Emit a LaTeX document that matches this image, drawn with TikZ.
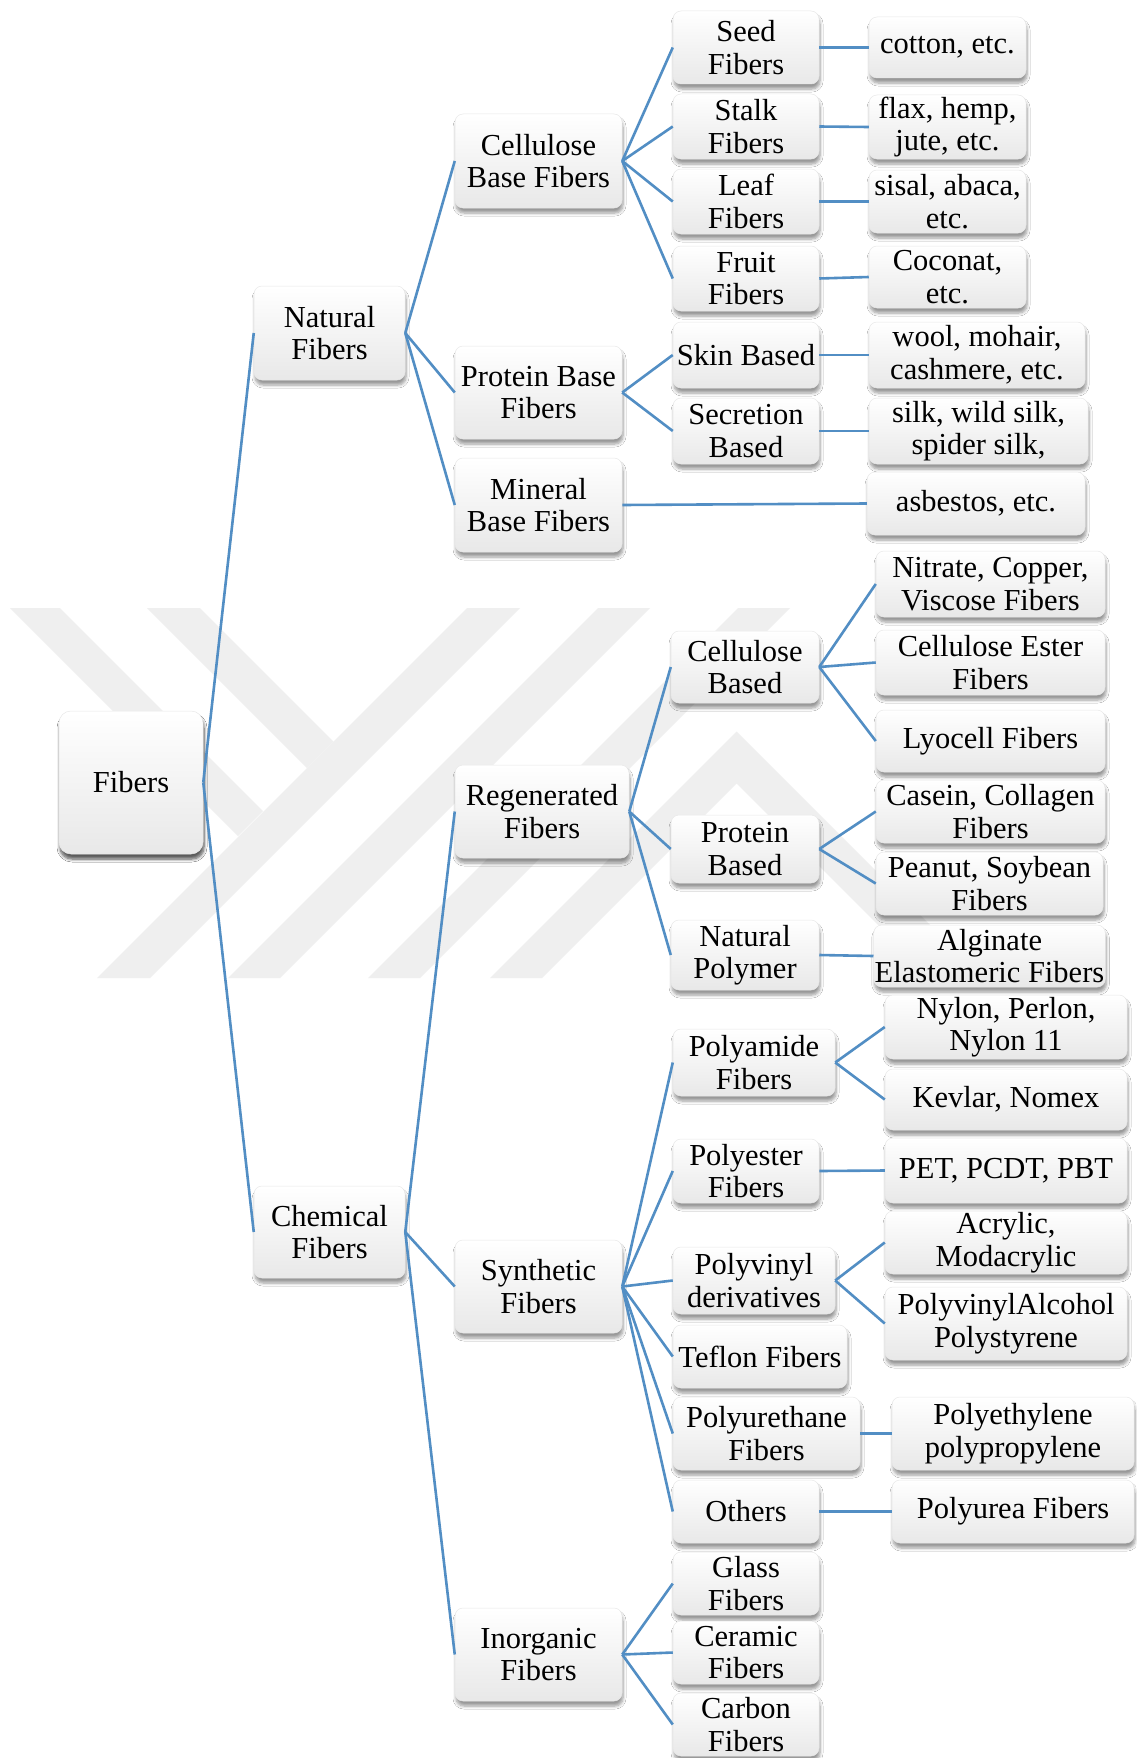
\documentclass[tikz,border=0pt]{standalone}
\usepackage{fontspec}
\usetikzlibrary{shadows.blur}
\newfontfamily\boxfont{Liberation Serif}
\definecolor{wmgray}{RGB}{239,239,239}
\definecolor{connblue}{RGB}{82,142,196}
\definecolor{boxedge}{RGB}{232,232,232}
\tikzset{
  box/.style={rectangle, rounded corners=8pt, align=center, inner sep=1pt,
    font=\boxfont\fontsize{30.5}{32.5}\selectfont, text=black,
    draw=boxedge, line width=0.5pt,
    top color=white, middle color=white, bottom color=black!9,
    blur shadow={shadow xshift=1pt, shadow yshift=-5pt, shadow blur radius=3pt, shadow blur steps=6, shadow opacity=40}},
  bigbox/.style={box, rounded corners=12pt},
  conn/.style={draw=connblue, line width=2.6pt},
  wmark/.style={fill=wmgray, draw=none}
}
\newcommand\bx[7][]{\node[box, #1, minimum width={#5-#3}, minimum height={#6-#4}] (#2) at ({(#3+#5)/2},{(#4+#6)/2}) {#7};}
\begin{document}
\begin{tikzpicture}[x=1pt,y=-1pt]
\useasboundingbox (0,0) rectangle (1136,1758);
\fill[white] (0,0) rectangle (1136,1758);
% watermark
\fill[wmark] (10,608) -- (60,608) -- (263,811) -- (238,836) -- cycle;
\fill[wmark] (147,608) -- (200,608) -- (333.5,741.5) -- (307,768) -- cycle;
\fill[wmark] (97,978) -- (150,978) -- (520,608) -- (467,608) -- cycle;
\fill[wmark] (228,978) -- (280,978) -- (650,608) -- (598,608) -- cycle;
\fill[wmark] (368,978) -- (420,978) -- (790,608) -- (738,608) -- cycle;
\fill[wmark] (490,978) -- (736.5,731.5) -- (983,978) -- (931,978) -- (736.5,783.5) -- (542,978) -- cycle;
% nodes
\bx[bigbox]{fib}{59}{711}{203}{854}{Fibers}
\bx{nat}{254}{286}{405}{380}{Natural\\Fibers}
\bx{chem}{254}{1186}{405}{1278}{Chemical\\Fibers}
\bx{cbf}{455}{114}{622}{208}{Cellulose\\Base Fibers}
\bx{pbf}{455}{346}{622}{439}{Protein Base\\Fibers}
\bx{mbf}{455}{458}{622}{552}{Mineral\\Base Fibers}
\bx{reg}{455}{765}{629}{858}{Regenerated\\Fibers}
\bx{syn}{455}{1240}{622}{1333}{Synthetic\\Fibers}
\bx{inorg}{455}{1608}{622}{1701}{Inorganic\\Fibers}
\bx{seed}{673}{11}{819}{84}{Seed\\Fibers}
\bx{stalk}{673}{94}{819}{159}{Stalk\\Fibers}
\bx{leaf}{673}{169}{819}{234}{Leaf\\Fibers}
\bx{fruit}{673}{246}{819}{311}{Fruit\\Fibers}
\bx{skin}{673}{322}{819}{388}{Skin Based}
\bx{secr}{673}{398}{819}{464}{Secretion\\Based}
\bx{cotton}{869}{17}{1026}{78}{cotton, etc.}
\bx{flax}{869}{95}{1026}{159}{flax, hemp,\\jute, etc.}
\bx{sisal}{869}{170}{1026}{233}{sisal, abaca,\\etc.}
\bx{coco}{869}{246}{1026}{308}{Coconat,\\etc.}
\bx{wool}{869}{322}{1085}{388}{wool, mohair,\\cashmere, etc.}
\bx{silk}{869}{398}{1088}{464}{silk, wild silk,\\spider silk,}
\bx{asb}{867}{472}{1085}{535}{asbestos, etc.}
\bx{cb}{671}{631}{819}{703}{Cellulose\\Based}
\bx{pb}{671}{815}{819}{883}{Protein\\Based}
\bx{np}{671}{920}{819}{990}{Natural\\Polymer}
\bx{nitr}{876}{551}{1105}{617}{Nitrate, Copper,\\Viscose Fibers}
\bx{cef}{876}{630}{1105}{695}{Cellulose Ester\\Fibers}
\bx{lyo}{876}{710}{1105}{772}{Lyocell Fibers}
\bx{cas}{876}{780}{1105}{843}{Casein, Collagen\\Fibers}
\bx{pea}{876}{852}{1103}{915}{Peanut, Soybean\\Fibers}
\bx{alg}{876}{925}{1103}{987}{Alginate\\Elastomeric Fibers}
\bx{pam}{673}{1029}{835}{1096}{Polyamide\\Fibers}
\bx{nyl}{885}{995}{1127}{1059}{Nylon, Perlon,\\Nylon 11}
\bx{kev}{885}{1069}{1127}{1130}{Kevlar, Nomex}
\bx{pes}{673}{1139}{819}{1203}{Polyester\\Fibers}
\bx{pet}{885}{1138}{1127}{1203}{PET, PCDT, PBT}
\bx{pvd}{673}{1247}{835}{1314}{Polyvinyl\\derivatives}
\bx{acr}{885}{1211}{1127}{1274}{Acrylic,\\Modacrylic}
\bx{pva}{885}{1287}{1127}{1360}{PolyvinylAlcohol\\Polystyrene}
\bx{tef}{673}{1325}{847}{1388}{Teflon Fibers}
\bx{pur}{673}{1397}{860}{1470}{Polyurethane\\Fibers}
\bx{pe}{892}{1397}{1134}{1470}{Polyethylene\\polypropylene}
\bx{oth}{673}{1480}{819}{1543}{Others}
\bx{purea}{892}{1480}{1134}{1543}{Polyurea Fibers}
\bx{gla}{673}{1552}{819}{1615}{Glass\\Fibers}
\bx{cer}{673}{1621}{819}{1684}{Ceramic\\Fibers}
\bx{car}{673}{1693}{819}{1756}{Carbon\\Fibers}
% connectors
\foreach \a/\b in {fib/nat, fib/chem,
  nat/cbf, nat/pbf, nat/mbf,
  chem/reg, chem/syn, chem/inorg,
  cbf/seed, cbf/stalk, cbf/leaf, cbf/fruit,
  pbf/skin, pbf/secr, mbf/asb,
  seed/cotton, stalk/flax, leaf/sisal, fruit/coco, skin/wool, secr/silk,
  reg/cb, reg/pb, reg/np,
  cb/nitr, cb/cef, cb/lyo, pb/cas, pb/pea, np/alg,
  syn/pam, syn/pes, syn/pvd, syn/tef, syn/pur, syn/oth,
  pam/nyl, pam/kev, pes/pet, pvd/acr, pvd/pva, pur/pe, oth/purea,
  inorg/gla, inorg/cer, inorg/car}
  \draw[conn] (\a.east) -- (\b.west);
\end{tikzpicture}
\end{document}
